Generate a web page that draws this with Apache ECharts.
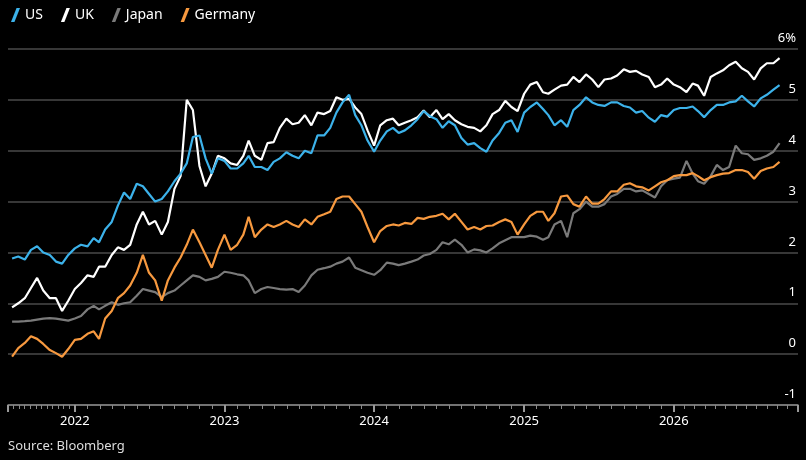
<!DOCTYPE html>
<html>
<head>
<meta charset="utf-8">
<script src="https://cdn.jsdelivr.net/npm/echarts@6/dist/echarts.min.js"></script>
<style>
  html, body { margin: 0; padding: 0; background: #000; }
  #chart { width: 806px; height: 460px; }
</style>
</head>
<body>
<div id="chart"></div>
<script>
////--------------------------------------------------------------------////
// semi-monthly samples, 1st and 16th, starting 2021-08-01
const start_year  = 2021;
const start_month = 7;   // August (0-based)
const sample_count = 124;

const us = [
    1.88,1.92,1.86,2.05,2.12,2.0,1.95,1.82,1.78,1.95,2.08,2.15,2.12,2.28,2.2,2.45,2.6,2.92,3.18,3.05,
    3.35,3.3,3.15,3.0,3.05,3.2,3.4,3.55,3.75,4.27,4.3,3.85,3.55,3.85,3.8,3.65,3.65,3.75,3.9,3.68,3.68,3.62,
    3.78,3.85,3.97,3.9,3.85,4.0,3.95,4.3,4.3,4.45,4.75,4.95,5.1,4.7,4.5,4.2,3.98,4.2,4.38,4.45,
    4.35,4.4,4.5,4.62,4.78,4.68,4.62,4.45,4.58,4.5,4.25,4.12,4.15,4.05,3.98,4.2,4.35,4.55,4.6,4.37,4.75,4.86,
    4.95,4.82,4.7,4.5,4.6,4.47,4.8,4.9,5.05,4.95,4.9,4.88,4.95,4.95,4.88,4.85,4.75,4.78,4.65,4.57,
    4.7,4.67,4.8,4.84,4.84,4.87,4.78,4.66,4.8,4.9,4.9,4.95,4.97,5.08,4.97,4.87,5.03,5.1,5.2,5.29
];
const uk = [
    0.92,1.0,1.1,1.3,1.5,1.25,1.1,1.1,0.85,1.05,1.28,1.4,1.55,1.52,1.72,1.72,1.95,2.1,2.05,2.15,
    2.55,2.8,2.55,2.62,2.35,2.6,3.25,3.5,5.0,4.8,3.7,3.3,3.55,3.9,3.85,3.75,3.72,3.9,4.2,3.9,3.82,4.15,
    4.17,4.45,4.63,4.52,4.55,4.7,4.5,4.75,4.72,4.78,5.05,5.0,5.02,4.85,4.72,4.4,4.1,4.5,4.6,4.63,
    4.5,4.55,4.6,4.66,4.79,4.66,4.8,4.62,4.72,4.6,4.52,4.47,4.45,4.38,4.5,4.72,4.8,4.98,4.86,4.78,5.12,5.3,
    5.35,5.15,5.12,5.2,5.28,5.3,5.45,5.35,5.5,5.4,5.25,5.4,5.42,5.48,5.6,5.55,5.57,5.5,5.45,5.25,
    5.3,5.42,5.3,5.25,5.15,5.32,5.28,5.08,5.45,5.52,5.58,5.68,5.75,5.62,5.55,5.4,5.62,5.72,5.72,5.82
];
const japan = [
    0.64,0.64,0.65,0.66,0.68,0.70,0.71,0.70,0.68,0.66,0.70,0.75,0.88,0.95,0.88,0.95,1.02,0.97,1.0,1.02,
    1.15,1.28,1.25,1.22,1.12,1.2,1.25,1.35,1.45,1.55,1.52,1.45,1.48,1.52,1.62,1.6,1.57,1.55,1.45,1.2,1.28,1.32,
    1.3,1.28,1.27,1.28,1.22,1.35,1.55,1.66,1.69,1.72,1.78,1.82,1.9,1.7,1.65,1.6,1.56,1.65,1.8,1.78,
    1.75,1.78,1.82,1.86,1.94,1.97,2.05,2.2,2.16,2.25,2.15,2.0,2.06,2.04,2.0,2.08,2.18,2.24,2.3,2.3,2.3,2.33,
    2.31,2.25,2.3,2.55,2.62,2.3,2.77,2.85,3.0,2.9,2.9,2.95,3.1,3.15,3.25,3.25,3.2,3.22,3.15,3.08,
    3.3,3.42,3.45,3.47,3.8,3.55,3.4,3.35,3.5,3.72,3.62,3.68,4.1,3.95,3.93,3.82,3.85,3.9,3.98,4.15
];
const germany = [
    -0.05,0.12,0.22,0.35,0.3,0.2,0.08,0.02,-0.05,0.1,0.28,0.3,0.4,0.45,0.3,0.7,0.85,1.1,1.2,1.35,
    1.6,1.95,1.6,1.45,1.05,1.45,1.7,1.9,2.15,2.45,2.2,1.95,1.7,2.05,2.35,2.05,2.15,2.35,2.7,2.3,2.45,2.55,
    2.5,2.55,2.62,2.55,2.5,2.65,2.55,2.7,2.75,2.8,3.05,3.1,3.1,2.95,2.8,2.5,2.2,2.42,2.52,2.55,
    2.53,2.58,2.56,2.68,2.66,2.7,2.72,2.76,2.65,2.76,2.6,2.45,2.5,2.45,2.52,2.53,2.6,2.65,2.6,2.35,2.55,2.72,
    2.8,2.8,2.62,2.77,3.1,3.12,2.95,2.9,3.1,2.96,2.96,3.05,3.2,3.2,3.33,3.36,3.3,3.28,3.22,3.3,
    3.38,3.42,3.5,3.52,3.52,3.56,3.5,3.42,3.48,3.52,3.55,3.56,3.62,3.62,3.58,3.45,3.6,3.65,3.68,3.78
];
const y_ticks = [-1, 0, 1, 2, 3, 4, 5, 6];
////--------------------------------------------------------------------////
const dates = [];
for (let index = 0; index < sample_count; index++) {
    const month = start_month + Math.floor(index / 2);
    dates.push(new Date(Date.UTC(start_year, month, index % 2 === 0 ? 1 : 16)).getTime());
}
function pair(values) {
    return values.map((v, i) => [dates[i], v]);
}
////-------------------////
const font = 'Noto Sans';
const icon = 'path://M0,10 L4,0 L6.5,0 L2.5,10Z';
const chart = echarts.init(document.getElementById('chart'), null, {renderer: 'canvas'});
const series_def = [
    {name: 'US',      data: us,      color: '#3cb2ea'},
    {name: 'UK',      data: uk,      color: '#ffffff'},
    {name: 'Japan',   data: japan,   color: '#7a7a7a'},
    {name: 'Germany', data: germany, color: '#f7993f'}
];
chart.setOption({
    backgroundColor: '#000',
    animation: false,
    legend: {
        left: 6, top: 3, itemWidth: 9, itemHeight: 14, itemGap: 18,
        icon: icon,
        textStyle: {color: '#fff', fontSize: 14, fontFamily: font},
        data: series_def.map(s => ({name: s.name, icon: icon}))
    },
    grid: {left: 8, right: 8, top: 49, bottom: 55},
    xAxis: {
        type: 'time',
        min: Date.UTC(2021, 6, 22),
        max: Date.UTC(2026, 9, 31),
        minInterval: 365 * 864e5,
        maxInterval: 366 * 864e5,
        axisLine: {show: true, onZero: false, lineStyle: {color: '#888', width: 1.5}},
        axisTick: {show: true, length: 7, lineStyle: {color: '#999', width: 2}},
        minorTick: {show: true, splitNumber: 12, length: 4, lineStyle: {color: '#888'}},
        axisLabel: {color: '#fff', fontSize: 13, fontFamily: font, margin: 10, formatter: '{yyyy}'},
        splitLine: {show: false}
    },
    yAxis: {
        type: 'value',
        position: 'right',
        min: -1, max: 6, interval: 1,
        axisLine: {show: false},
        axisTick: {show: false},
        axisLabel: {
            inside: true, color: '#fff', fontSize: 13, fontFamily: font,
            verticalAlign: 'bottom', margin: 2, padding: [0, 0, 4, 0],
            formatter: v => (v === y_ticks[y_ticks.length - 1] ? v + '%' : '' + v)
        },
        splitLine: {lineStyle: {color: '#4a4a4a', width: 1.5}}
    },
    series: series_def.map(s => ({
        name: s.name,
        type: 'line',
        data: pair(s.data),
        showSymbol: false,
        color: s.color,
        lineStyle: {color: s.color, width: 2.2},
        z: s.name === 'US' ? 3 : 2
    })),
    graphic: [{
        type: 'text', left: 8, top: 440,
        style: {text: 'Source: Bloomberg', fill: '#ddd', fontSize: 13, fontFamily: font}
    }]
});
window.addEventListener('resize', chart.resize);
</script>
</body>
</html>
